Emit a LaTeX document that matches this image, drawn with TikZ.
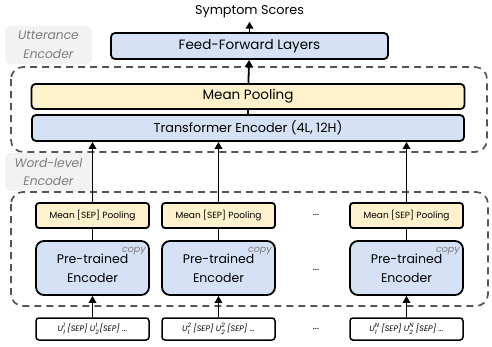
\documentclass[tikz,border=0pt]{standalone}
\usepackage{fontspec}
\setmainfont{Poppins}
\usepackage{tikz}
\usetikzlibrary{positioning,calc,arrows.meta}
\definecolor{encBlue}{RGB}{213, 226, 245}
\definecolor{poolYellow}{RGB}{255, 242, 204}
\definecolor{tagGray}{RGB}{242, 242, 242}
\definecolor{tagText}{RGB}{125, 125, 125}
\definecolor{dashGray}{RGB}{85, 85, 85}
\newcommand{\utt}[2]{U\rlap{\raisebox{-0.45em}{\fontsize{6}{6}\selectfont #1}}\raisebox{0.5em}{\fontsize{6}{6}\selectfont #2}}

\tikzset{
    blockbox/.style={draw=black,line width=1.8pt,rounded corners=4pt,align=center,inner sep=0pt},
    bluebox/.style={blockbox,fill=encBlue},
    yellowbox/.style={blockbox,fill=poolYellow},
    encbox/.style={bluebox,rounded corners=8pt,minimum width=113pt,minimum height=54pt,
        font=\fontsize{12.5}{19}\selectfont},
    sepbox/.style={yellowbox,rounded corners=3pt,minimum width=113pt,minimum height=25pt,
        font=\fontsize{9}{10}\selectfont},
    inbox/.style={blockbox,fill=white,line width=1.5pt,rounded corners=3pt,minimum width=113pt,
        minimum height=22pt,font=\fontsize{8}{9}\selectfont\itshape},
    groupbox/.style={draw=dashGray,line width=1.7pt,dash pattern=on 7pt off 5pt,rounded corners=12pt},
    grouptag/.style={fill=tagGray,rounded corners=6pt,minimum width=87pt,minimum height=38pt,
        align=center,text=tagText,font=\fontsize{12.3}{18.5}\selectfont\itshape,inner sep=0pt},
    copytag/.style={text=tagText,font=\fontsize{9.5}{9.5}\selectfont\itshape,inner sep=0pt,anchor=north east},
    arrow/.style={line width=1.8pt,-{Triangle[width=7.5pt,length=7pt]}},
    link/.style={line width=1.8pt},
    dots/.style={font=\fontsize{10}{10}\selectfont}
}

\begin{document}
\begin{tikzpicture}[x=1pt,y=-1pt]
    \useasboundingbox (0,0) rectangle (492,346);

    % group labels and dashed frames
    \node[grouptag] (uttTag) at (48.5,45) {Utterance\\Encoder};
    \node[grouptag] (wordTag) at (48.5,172) {Word-level\\Encoder};
    \draw[groupbox] (11,67) rectangle (487,152);
    \draw[groupbox] (11,192) rectangle (488,306);

    % utterance encoder
    \node[font=\fontsize{12.8}{14}\selectfont] (scores) at (249.5,12) {Symptom Scores};
    \node[bluebox,minimum width=277pt,minimum height=26pt,font=\fontsize{13.5}{14}\selectfont]
        (ffl) at (249.5,46) {Feed-Forward Layers};
    \node[yellowbox,minimum width=433pt,minimum height=25pt,font=\fontsize{13.5}{14}\selectfont]
        (meanPool) at (248,96.5) {Mean Pooling};
    \node[bluebox,minimum width=432pt,minimum height=26pt,font=\fontsize{12.8}{14}\selectfont]
        (trfEnc) at (248,128) {Transformer Encoder (4L, 12H)};

    % word-level encoder, one column per utterance
    \node[sepbox] (sep1) at (92.5,215.5) {Mean [SEP] Pooling};
    \node[sepbox] (sep2) at (218.5,215.5) {Mean [SEP] Pooling};
    \node[sepbox] (sep3) at (406.5,215.5) {Mean [SEP] Pooling};

    \node[encbox] (enc1) at (92.5,268) {Pre-trained\\Encoder};
    \node[encbox] (enc2) at (218.5,268) {Pre-trained\\Encoder};
    \node[encbox] (enc3) at (406.5,268) {Pre-trained\\Encoder};

    \node[copytag] (copy1) at ($(enc1.north east)+(-4,7)$) {copy};
    \node[copytag] (copy2) at ($(enc2.north east)+(-4,7)$) {copy};
    \node[copytag] (copy3) at ($(enc3.north east)+(-4,7)$) {copy};

    \node[inbox] (in1) at (92.5,329) {\utt{1}{1} [SEP] \utt{2}{1} [SEP] ...};
    \node[inbox] (in2) at (218.5,329) {\utt{1}{2} [SEP] \utt{2}{2} [SEP] ...};
    \node[inbox] (in3) at (406.5,329) {\utt{1}{N} [SEP] \utt{2}{N} [SEP] ...};

    \node[dots] (dotsA) at (316,215) {...};
    \node[dots] (dotsB) at (316,270) {...};
    \node[dots] (dotsC) at (316,329) {...};

    % connectors
    \draw[arrow] (ffl) -- (scores);
    \draw[arrow] (meanPool) -- (ffl);
    \draw[link] (trfEnc) -- (meanPool);
    \foreach \i in {1,2,3} {
        \draw[arrow] (in\i) -- (enc\i);
        \draw[link] (enc\i) -- (sep\i);
        \draw[arrow] (sep\i) -- (sep\i |- trfEnc.south);
    }
\end{tikzpicture}
\end{document}
